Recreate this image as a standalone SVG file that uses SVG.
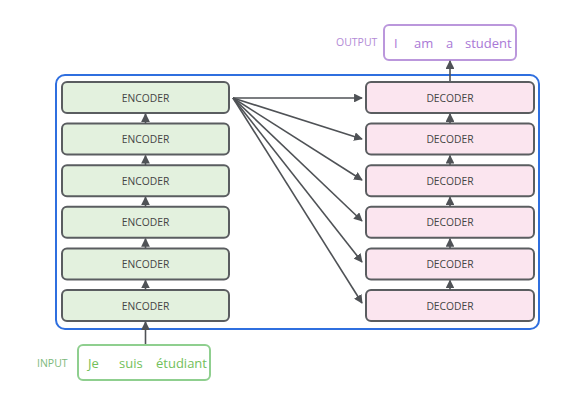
<svg xmlns="http://www.w3.org/2000/svg" width="581" height="405" viewBox="0 0 581 405">
<style>
.enc rect{fill:#e3f1de;stroke:#5a5d60;stroke-width:2}
.dec rect{fill:#fbe5ef;stroke:#5a5d60;stroke-width:2}
.lbl{font-family:"Open Sans",sans-serif;font-size:10.3px;fill:#454545;text-anchor:middle}
.conn line{stroke:#4f5256;stroke-width:1.6;fill:none}
.io{font-family:"Open Sans",sans-serif;font-size:13px}
.tag{font-family:"Open Sans",sans-serif;font-size:10.5px}
</style>
<defs>
<marker id="ah" viewBox="0 0 10 10" refX="9" refY="5" markerWidth="5.5" markerHeight="5.5" orient="auto" markerUnits="strokeWidth">
<path d="M0,0 L10,5 L0,10 z" fill="#4f5256"/>
</marker>
</defs>
<rect id="stack" x="56" y="75" width="483" height="254" rx="9" fill="none" stroke="#2f6fdf" stroke-width="2"/>
<g id="enc1" class="enc"><rect x="62" y="82" width="167" height="31" rx="5"/><text class="lbl" x="145.5" y="101.5">ENCODER</text></g>
<g id="enc2" class="enc"><rect x="62" y="123.6" width="167" height="31" rx="5"/><text class="lbl" x="145.5" y="143.1">ENCODER</text></g>
<g id="enc3" class="enc"><rect x="62" y="165.2" width="167" height="31" rx="5"/><text class="lbl" x="145.5" y="184.7">ENCODER</text></g>
<g id="enc4" class="enc"><rect x="62" y="206.8" width="167" height="31" rx="5"/><text class="lbl" x="145.5" y="226.3">ENCODER</text></g>
<g id="enc5" class="enc"><rect x="62" y="248.4" width="167" height="31" rx="5"/><text class="lbl" x="145.5" y="267.9">ENCODER</text></g>
<g id="enc6" class="enc"><rect x="62" y="290" width="167" height="31" rx="5"/><text class="lbl" x="145.5" y="309.5">ENCODER</text></g>
<g id="dec1" class="dec"><rect x="366" y="82" width="168" height="31" rx="5"/><text class="lbl" x="450" y="101.5">DECODER</text></g>
<g id="dec2" class="dec"><rect x="366" y="123.6" width="168" height="31" rx="5"/><text class="lbl" x="450" y="143.1">DECODER</text></g>
<g id="dec3" class="dec"><rect x="366" y="165.2" width="168" height="31" rx="5"/><text class="lbl" x="450" y="184.7">DECODER</text></g>
<g id="dec4" class="dec"><rect x="366" y="206.8" width="168" height="31" rx="5"/><text class="lbl" x="450" y="226.3">DECODER</text></g>
<g id="dec5" class="dec"><rect x="366" y="248.4" width="168" height="31" rx="5"/><text class="lbl" x="450" y="267.9">DECODER</text></g>
<g id="dec6" class="dec"><rect x="366" y="290" width="168" height="31" rx="5"/><text class="lbl" x="450" y="309.5">DECODER</text></g>
<g id="output">
<text class="tag" x="336" y="46" fill="#b38bd6">OUTPUT</text>
<rect x="384" y="25" width="132" height="35" rx="5" fill="#fff" stroke="#bb97dc" stroke-width="2"/>
<text class="io" y="47.5" fill="#a978d6"><tspan x="394">I</tspan><tspan x="414">am</tspan><tspan x="446">a</tspan><tspan x="465">student</tspan></text>
</g>
<g id="input">
<text class="tag" x="37" y="367" fill="#7cb97c">INPUT</text>
<rect x="78" y="345" width="132" height="35" rx="5" fill="#fff" stroke="#8fcf8f" stroke-width="2"/>
<text class="io" y="367.5" fill="#72c05a"><tspan x="88">Je</tspan><tspan x="119">suis</tspan><tspan x="156">étudiant</tspan></text>
</g>
<g id="connectors" class="conn">
<line x1="145.5" y1="344" x2="145.5" y2="322" marker-end="url(#ah)"/>
<line x1="145.5" y1="290" x2="145.5" y2="280.4" marker-end="url(#ah)"/>
<line x1="145.5" y1="248.4" x2="145.5" y2="238.8" marker-end="url(#ah)"/>
<line x1="145.5" y1="206.8" x2="145.5" y2="197.2" marker-end="url(#ah)"/>
<line x1="145.5" y1="165.2" x2="145.5" y2="155.6" marker-end="url(#ah)"/>
<line x1="145.5" y1="123.6" x2="145.5" y2="114" marker-end="url(#ah)"/>
<line x1="450" y1="290" x2="450" y2="280.4" marker-end="url(#ah)"/>
<line x1="450" y1="248.4" x2="450" y2="238.8" marker-end="url(#ah)"/>
<line x1="450" y1="206.8" x2="450" y2="197.2" marker-end="url(#ah)"/>
<line x1="450" y1="165.2" x2="450" y2="155.6" marker-end="url(#ah)"/>
<line x1="450" y1="123.6" x2="450" y2="114" marker-end="url(#ah)"/>
<line x1="450" y1="81" x2="450" y2="61" marker-end="url(#ah)"/>
<line x1="233" y1="98" x2="362" y2="98" marker-end="url(#ah)"/>
<line x1="233" y1="98" x2="362" y2="139" marker-end="url(#ah)"/>
<line x1="233" y1="98" x2="362" y2="180" marker-end="url(#ah)"/>
<line x1="233" y1="98" x2="362" y2="221" marker-end="url(#ah)"/>
<line x1="233" y1="98" x2="362" y2="262" marker-end="url(#ah)"/>
<line x1="233" y1="98" x2="362" y2="303" marker-end="url(#ah)"/>
</g>
</svg>
